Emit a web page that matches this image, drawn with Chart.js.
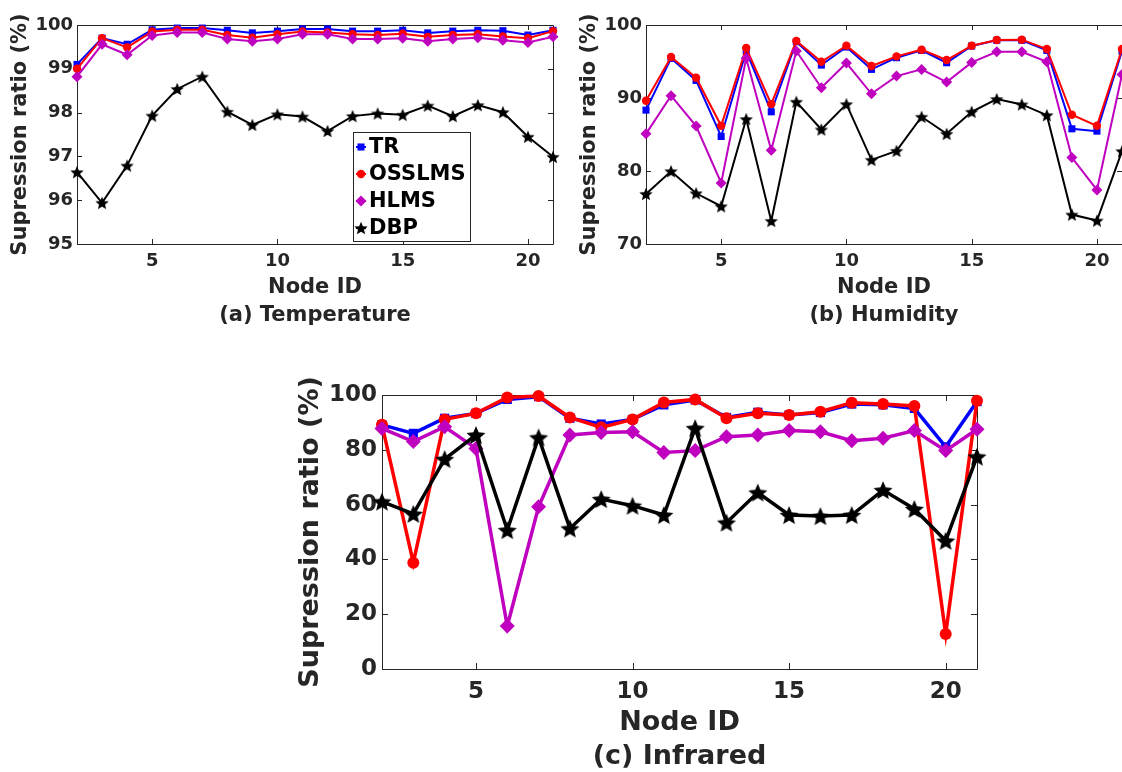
<!DOCTYPE html>
<html lang="en">
  <head>
    <meta charset="UTF-8" />
    <title>Supression ratio</title>
    <script src="https://cdn.jsdelivr.net/npm/chart.js@4.4.0/dist/chart.umd.min.js"></script>
    <style>
      html, body { margin: 0; padding: 0; background: #fff; overflow: hidden; width: 1122px; height: 772px; }
      canvas { position: absolute; }
    </style>
  </head>
  <body>
    <canvas id="chartA" width="560" height="330" style="left:0px;top:0px"></canvas>
    <canvas id="chartB" width="560" height="330" style="left:569px;top:0px"></canvas>
    <canvas id="chartC" width="700" height="406" style="left:290px;top:370px"></canvas>
    <script>
      // data
      const nodeIds = [2, 3, 4, 5, 6, 7, 8, 9, 10, 11, 12, 13, 14, 15, 16, 17, 18, 19, 20, 21];
      const seriesNames = ["TR", "OSSLMS", "HLMS", "DBP"];
      const xTicks = [5, 10, 15, 20];

      const tempYTicks = [95, 96, 97, 98, 99, 100];
      const tempTR = [99.10, 99.70, 99.56, 99.89, 99.93, 99.93, 99.88, 99.82, 99.86, 99.91, 99.91, 99.86, 99.86, 99.88, 99.82, 99.86, 99.88, 99.87, 99.77, 99.88];
      const tempOSSLMS = [99.00, 99.70, 99.49, 99.85, 99.89, 99.89, 99.77, 99.71, 99.79, 99.85, 99.83, 99.79, 99.77, 99.80, 99.73, 99.77, 99.79, 99.74, 99.70, 99.86];
      const tempHLMS = [98.82, 99.56, 99.32, 99.76, 99.83, 99.83, 99.68, 99.63, 99.68, 99.79, 99.79, 99.68, 99.68, 99.70, 99.63, 99.68, 99.71, 99.65, 99.60, 99.73];
      const tempDBP = [96.64, 95.94, 96.79, 97.93, 98.54, 98.82, 98.02, 97.72, 97.96, 97.91, 97.58, 97.92, 97.98, 97.95, 98.16, 97.92, 98.17, 98.01, 97.45, 96.99];

      const humYTicks = [70, 80, 90, 100];
      const humTR = [88.34, 95.43, 92.41, 84.73, 96.43, 88.11, 97.71, 94.51, 96.98, 93.92, 95.52, 96.52, 94.83, 97.12, 97.90, 97.90, 96.52, 85.78, 85.46, 96.43];
      const humOSSLMS = [89.62, 95.61, 92.78, 86.19, 96.84, 89.16, 97.81, 94.97, 97.17, 94.38, 95.70, 96.62, 95.20, 97.17, 97.94, 97.99, 96.71, 87.70, 86.19, 96.71];
      const humHLMS = [85.09, 90.31, 86.15, 78.37, 95.43, 82.85, 96.43, 91.40, 94.79, 90.58, 93.00, 93.92, 92.18, 94.88, 96.34, 96.34, 94.97, 81.85, 77.41, 93.23];
      const humDBP = [76.86, 79.97, 76.95, 75.17, 87.11, 73.16, 89.48, 85.69, 89.16, 81.53, 82.76, 87.43, 85.09, 88.11, 89.85, 89.12, 87.65, 74.03, 73.21, 82.72];

      const irYTicks = [0, 20, 40, 60, 80, 100];
      const irTR = [89.1, 86.0, 91.5, 93.3, 98.4, 99.4, 91.5, 89.4, 91.1, 96.4, 98.2, 91.8, 93.7, 92.7, 93.6, 96.7, 96.4, 95.1, 81.1, 97.6];
      const irOSSLMS = [89.1, 38.8, 91.1, 93.3, 99.1, 99.6, 91.8, 88.2, 91.1, 97.3, 98.4, 91.5, 93.3, 92.7, 93.9, 97.2, 96.7, 96.0, 12.8, 97.9];
      const irHLMS = [87.8, 83.0, 88.4, 80.5, 15.7, 59.2, 85.4, 86.3, 86.6, 79.0, 79.7, 84.8, 85.4, 87.0, 86.6, 83.3, 84.2, 87.0, 79.7, 87.5];
      const irDBP = [61.1, 56.6, 76.6, 85.4, 50.7, 84.5, 51.3, 62.0, 59.6, 56.2, 87.9, 53.4, 64.4, 56.2, 55.8, 56.2, 65.3, 58.4, 46.8, 77.5];

      const FONT = "'DejaVu Sans', sans-serif";
      const AXIS = "#262626";
      const colors = ["#0000ff", "#ff0000", "#bf00bf", "#000000"];

      // filled five point star, used as point image
      function starImage(r) {
        const c = document.createElement("canvas");
        const s = Math.ceil(r * 2 + 2);
        c.width = s;
        c.height = s;
        const g = c.getContext("2d");
        g.translate(s / 2, s / 2 + r * 0.1);
        g.beginPath();
        for (let i = 0; i < 10; i++) {
          const rr = i % 2 ? r * 0.45 : r;
          const a = -Math.PI / 2 + (i * Math.PI) / 5;
          g.lineTo(rr * Math.cos(a), rr * Math.sin(a));
        }
        g.closePath();
        g.fillStyle = "#000";
        g.fill();
        return c;
      }

      // MATLAB style box with inward ticks on all four sides
      const boxTicks = {
        id: "boxTicks",
        beforeDatasetsDraw(chart, args, opts) {
          const { ctx, chartArea: a, scales } = chart;
          const len = opts.len || 5;
          ctx.save();
          ctx.strokeStyle = AXIS;
          ctx.lineWidth = 1;
          ctx.beginPath();
          ctx.rect(Math.round(a.left) + 0.5, Math.round(a.top) + 0.5, Math.round(a.right - a.left), Math.round(a.bottom - a.top));
          scales.x.ticks.forEach((t) => {
            const px = Math.round(scales.x.getPixelForValue(t.value)) + 0.5;
            ctx.moveTo(px, a.bottom); ctx.lineTo(px, a.bottom - len);
            ctx.moveTo(px, a.top); ctx.lineTo(px, a.top + len);
          });
          scales.y.ticks.forEach((t) => {
            const py = Math.round(scales.y.getPixelForValue(t.value)) + 0.5;
            ctx.moveTo(a.left, py); ctx.lineTo(a.left + len, py);
            ctx.moveTo(a.right, py); ctx.lineTo(a.right - len, py);
          });
          ctx.stroke();
          ctx.restore();
        },
      };

      // legend box drawn inside the plot
      const boxLegend = {
        id: "boxLegend",
        afterDraw(chart, args, opts) {
          if (!opts.show) return;
          const { ctx } = chart;
          ctx.save();
          ctx.fillStyle = "#fff";
          ctx.fillRect(opts.x, opts.y, opts.w, opts.h);
          ctx.strokeStyle = AXIS;
          ctx.lineWidth = 1;
          ctx.strokeRect(opts.x + 0.5, opts.y + 0.5, opts.w, opts.h);
          chart.data.datasets.forEach((ds, i) => {
            const cy = opts.y + 15 + i * 27;
            const mx = opts.x + 8;
            ctx.strokeStyle = ds.borderColor;
            ctx.lineWidth = 2;
            ctx.beginPath();
            ctx.moveTo(mx - 5, cy);
            ctx.lineTo(mx + 5, cy);
            ctx.stroke();
            ctx.fillStyle = ds.pointBackgroundColor;
            Chart.helpers.drawPoint(ctx, { pointStyle: ds.pointStyle, radius: ds.pointRadius, rotation: 0, borderWidth: 0 }, mx, cy);
            ctx.fillStyle = "#000";
            ctx.font = "bold 21px " + FONT;
            ctx.textBaseline = "middle";
            ctx.textAlign = "left";
            ctx.fillText(ds.label, opts.x + 16, cy + 1);
          });
          ctx.restore();
        },
      };

      function makeChart(id, p) {
        const values = p.values;
        const styles = ["rect", "circle", "rectRot", starImage(p.star)];
        const radii = p.radii;
        const datasets = seriesNames.map((name, i) => ({
          label: name,
          data: nodeIds.map((n, k) => ({ x: n, y: values[i][k] })),
          borderColor: colors[i],
          backgroundColor: colors[i],
          pointBackgroundColor: colors[i],
          pointBorderWidth: 0,
          pointStyle: styles[i],
          pointRadius: radii[i],
          borderWidth: p.lineWidth,
          order: 3 - i,
          clip: false,
        }));
        return new Chart(document.getElementById(id), {
          type: "line",
          data: { datasets },
          plugins: [boxTicks, boxLegend],
          options: {
            responsive: false,
            animation: false,
            devicePixelRatio: 1,
            layout: { padding: { top: p.padTop, right: p.padRight, left: 0, bottom: 0 } },
            plugins: {
              legend: { display: false },
              tooltip: { enabled: false },
              boxTicks: { len: p.tickLen },
              boxLegend: p.legend || { show: false },
            },
            scales: {
              x: {
                type: "linear",
                min: 2,
                max: 21,
                afterBuildTicks: (s) => { s.ticks = xTicks.map((v) => ({ value: v })); },
                afterFit: (s) => { s.height = p.xHeight; },
                grid: { display: false, drawTicks: false },
                border: { display: false },
                ticks: { color: AXIS, padding: p.xTickPad, font: { family: FONT, weight: "bold", size: p.tickSize } },
                title: {
                  display: true,
                  text: ["Node ID", p.caption],
                  color: AXIS,
                  padding: { top: 0, bottom: p.captionPad },
                  font: { family: FONT, weight: "bold", size: p.titleSize, lineHeight: p.titleLine },
                },
              },
              y: {
                min: p.yTicks[0],
                max: p.yTicks[p.yTicks.length - 1],
                afterBuildTicks: (s) => { s.ticks = p.yTicks.map((v) => ({ value: v })); },
                afterFit: (s) => { s.width = p.yWidth; },
                grid: { display: false, drawTicks: false },
                border: { display: false },
                ticks: { color: AXIS, padding: p.yTickPad, font: { family: FONT, weight: "bold", size: p.tickSize } },
                title: {
                  display: true,
                  text: "Supression ratio (%)",
                  color: AXIS,
                  padding: { top: p.yTitlePad, bottom: 0 },
                  font: { family: FONT, weight: "bold", size: p.titleSize },
                },
              },
            },
          },
        });
      }

      makeChart("chartA", {
        values: [tempTR, tempOSSLMS, tempHLMS, tempDBP],
        yTicks: tempYTicks,
        caption: "(a) Temperature",
        radii: [5, 4.2, 5.5, 7],
        star: 7,
        lineWidth: 2,
        padTop: 25, padRight: 6,
        xHeight: 86, yWidth: 77,
        tickSize: 18, titleSize: 21, titleLine: "28px",
        xTickPad: 7, yTickPad: 4, captionPad: 0, yTitlePad: 8,
        tickLen: 5,
        legend: { show: true, x: 353, y: 132, w: 117, h: 109 },
      });

      makeChart("chartB", {
        values: [humTR, humOSSLMS, humHLMS, humDBP],
        yTicks: humYTicks,
        caption: "(b) Humidity",
        radii: [5, 4.2, 5.5, 7],
        star: 7,
        lineWidth: 2,
        padTop: 25, padRight: 7,
        xHeight: 86, yWidth: 77,
        tickSize: 18, titleSize: 21, titleLine: "28px",
        xTickPad: 7, yTickPad: 4, captionPad: 0, yTitlePad: 8,
        tickLen: 5,
      });

      makeChart("chartC", {
        values: [irTR, irOSSLMS, irHLMS, irDBP],
        yTicks: irYTicks,
        caption: "(c) Infrared",
        radii: [6.5, 6, 7.5, 10],
        star: 10,
        lineWidth: 3.5,
        padTop: 25, padRight: 13,
        xHeight: 107, yWidth: 92,
        tickSize: 23, titleSize: 27, titleLine: "34px",
        xTickPad: 9, yTickPad: 5, captionPad: 2, yTitlePad: 5,
        tickLen: 6,
      });
    </script>
  </body>
</html>
